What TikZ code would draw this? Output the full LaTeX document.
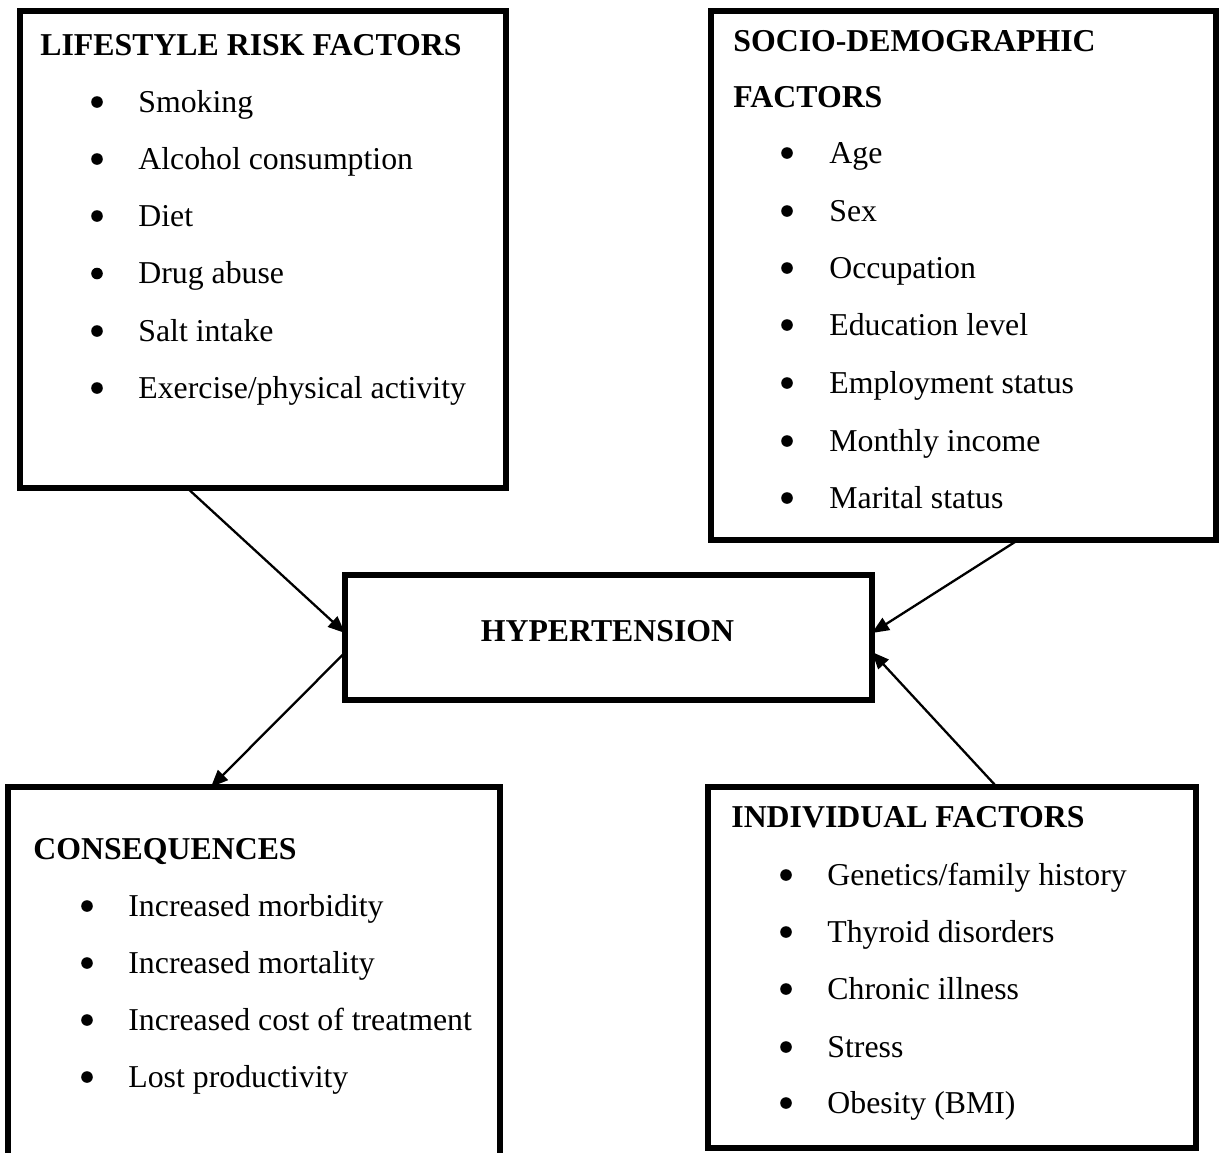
\documentclass[tikz,border=0pt]{standalone}
\usepackage{fontspec}
\setmainfont{Liberation Serif}
\usetikzlibrary{arrows.meta,calc}
\newcommand{\bodyfont}{\fontsize{15.9}{19}\selectfont}
\tikzset{
  frame/.style={draw=black, line width=2.6pt, fill=none, inner sep=0pt, outer sep=0pt},
  ttl/.style={anchor=base west, inner sep=0pt, font=\bodyfont\bfseries},
  itm/.style={anchor=base west, inner sep=0pt, font=\bodyfont},
  conn/.style={line width=1.15pt, -{Triangle[length=8.5pt,width=7pt]}},
}
\newcommand{\bdot}[2]{\fill (#1,#2-10) circle (2.9pt);}
\begin{document}
\begin{tikzpicture}[x=0.5pt,y=-0.5pt]
\clip (0,0) rectangle (1219,1152);
\fill[white] (0,0) rectangle (1219,1152);
% boxes
\node[frame, minimum width=243pt, minimum height=238.5pt] (A) at (263,249.5) {};
\node[frame, minimum width=252.5pt, minimum height=264.5pt] (B) at (963.5,275.5) {};
\node[frame, minimum width=263.5pt, minimum height=62.5pt] (H) at (608.5,637.5) {};
\node[frame, minimum width=246pt, minimum height=206.5pt] (C) at (254,993.5) {};
\node[frame, minimum width=244pt, minimum height=180.5pt] (D) at (952,967.5) {};
% box A text
\node[ttl] (At) at (40,55) {LIFESTYLE RISK FACTORS};
\foreach \y/\t/\n in {112/Smoking/a1, 169/Alcohol consumption/a2, 226/Diet/a3, 283.5/Drug abuse/a4, 341/Salt intake/a5, 398/Exercise\slash physical activity/a6}{
  \node[itm] (\n) at (138,\y) {\t};
  \bdot{97}{\y}
}
% box B text
\node[ttl] (Bt1) at (733,51) {SOCIO-DEMOGRAPHIC};
\node[ttl] (Bt2) at (733,107) {FACTORS};
\foreach \y/\t/\n in {163/Age/b1, 221/Sex/b2, 278/Occupation/b3, 335/Education level/b4, 393/Employment status/b5, 451/Monthly income/b6, 508/Marital status/b7}{
  \node[itm] (\n) at (829,\y) {\t};
  \bdot{787}{\y}
}
% hypertension
\node[anchor=base, inner sep=0pt, font=\bodyfont\bfseries] (Ht) at (607.5,641) {HYPERTENSION};
% box C text
\node[ttl] (Ct) at (33,859) {CONSEQUENCES};
\foreach \y/\t/\n in {916/Increased morbidity/c1, 973/Increased mortality/c2, 1030/Increased cost of treatment/c3, 1087/Lost productivity/c4}{
  \node[itm] (\n) at (128,\y) {\t};
  \bdot{87}{\y}
}
% box D text
\node[ttl] (Dt) at (731,827) {INDIVIDUAL FACTORS};
\foreach \y/\t/\n in {885/Genetics\slash family history/d1, 942/Thyroid disorders/d2, 999/Chronic illness/d3, 1057/Stress/d4, 1113/Obesity (BMI)/d5}{
  \node[itm] (\n) at (827,\y) {\t};
  \bdot{786}{\y}
}
% connectors
\draw[conn] ($(A.south west)!0.344!(A.south east)$) -- ($(H.west)+(0,-4.5)$);
\draw[conn] ($(B.south west)!0.608!(B.south east)$) -- ($(H.east)+(0,-4.5)$);
\draw[conn] ($(D.north west)!0.592!(D.north east)$) -- ($(H.east)+(0,14.5)$);
\draw[conn] ($(H.west)+(0,15)$) -- ($(C.north west)!0.4126!(C.north east)$);
\end{tikzpicture}
\end{document}
